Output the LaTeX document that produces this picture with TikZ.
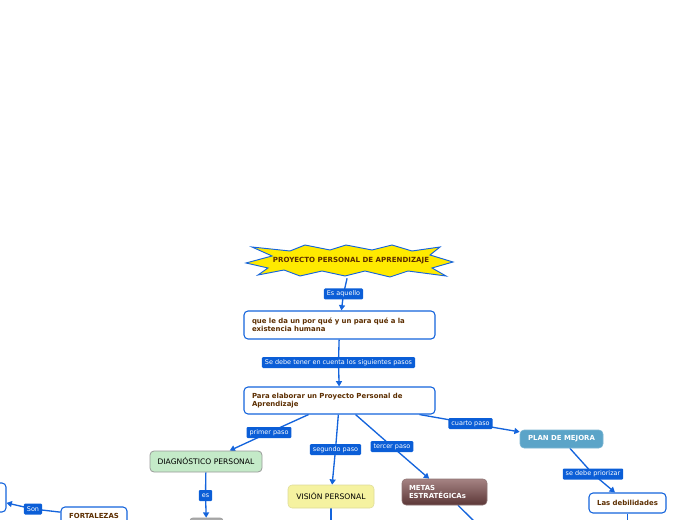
\documentclass[tikz,border=0pt]{standalone}
\usepackage{fontspec}
\setmainfont{DejaVu Sans}
\usetikzlibrary{arrows.meta}
\definecolor{cblue}{HTML}{1464DC}
\definecolor{lblue}{HTML}{0B5ED7}
\definecolor{brn}{HTML}{5C2E00}
\definecolor{staryel}{HTML}{FFEA00}
\definecolor{diagg}{HTML}{C4EAC8}
\definecolor{visy}{HTML}{F5F2A0}
\definecolor{metat}{HTML}{A58383}
\definecolor{metab}{HTML}{5C3737}
\definecolor{planb}{HTML}{5BA4C8}
\pgfdeclarelayer{bg}
\pgfsetlayers{bg,main}
\begin{document}
\begin{tikzpicture}[x=0.75pt,y=-0.75pt,
  conn/.style={draw=cblue,line width=1pt,-{Triangle[width=4.5pt,length=4pt]}},
  plainconn/.style={draw=cblue,line width=1pt},
  lbl/.style={fill=lblue,text=white,font=\fontsize{4.85}{5.5}\selectfont,rounded corners=0.8pt,inner xsep=2.2pt,inner ysep=0pt,minimum height=8.25pt},
  wbox/.style={draw=cblue,fill=white,line width=0.8pt,rounded corners=3pt,text=brn,font=\fontsize{5.2}{6}\selectfont\bfseries},
  leftbox/.style={wbox,align=left,inner xsep=6pt},
  colbox/.style={rounded corners=3pt,font=\fontsize{5.7}{6}\selectfont,inner sep=0pt}
]
\useasboundingbox (0,0) rectangle (696,520);

% central star
\draw[fill=staryel,draw=cblue,line width=0.7pt]
  (246,263) -- (272,256) -- (252,247) -- (290,251) -- (305,245) -- (330,250) -- (346,245)
  -- (372,250) -- (392,245) -- (412,251) -- (440,247) -- (430,255) -- (453,262) -- (432,268)
  -- (446,276) -- (408,271) -- (390,277) -- (365,271) -- (345,276) -- (322,271) -- (300,276)
  -- (284,270) -- (258,275) -- (268,268) -- cycle;
\node[minimum width=150pt,minimum height=25.5pt,inner sep=0pt,text=brn,
  font=\fontsize{5.3}{6}\selectfont\bfseries] (star) at (351,261) {PROYECTO PERSONAL DE APRENDIZAJE};

\node[leftbox,minimum height=21pt,text width=131.25pt] (box1) at (339.5,325)
  {que le da un por qué y un para qué a la\\existencia humana};
\node[leftbox,minimum height=20.25pt,text width=131.25pt] (box2) at (339.5,400.5)
  {Para elaborar un Proyecto Personal de\\Aprendizaje};

\node[colbox,fill=diagg,draw=gray!80,line width=0.6pt,minimum width=84pt,minimum height=15.75pt] (diag) at (206,461.5) {DIAGNÓSTICO PERSONAL};
\node[colbox,fill=visy,draw=visy!80!gray,line width=0.4pt,minimum width=64.5pt,minimum height=17.25pt] (vision) at (331,496.5) {VISIÓN PERSONAL};
\node[colbox,top color=metat,bottom color=metab,draw=metab!70,line width=0.4pt,minimum height=19.5pt,
  text width=53.25pt,inner xsep=5.25pt,align=left,text=white,font=\fontsize{5.2}{6}\selectfont\bfseries] (metas) at (444.5,492) {METAS\\ESTRATÉGICAs};
\node[colbox,fill=planb,draw=planb!80,line width=0.4pt,minimum width=62.25pt,minimum height=13.5pt,
  text=white,font=\fontsize{5.2}{6}\selectfont\bfseries] (plan) at (561.5,439) {PLAN DE MEJORA};
\node[wbox,minimum width=57.75pt,minimum height=15pt,inner sep=0pt] (debil) at (627.5,503) {Las debilidades};
\node[wbox,minimum width=49.5pt,minimum height=13.5pt,inner sep=0pt] (fort) at (94,516) {FORTALEZAS};
\node[wbox,minimum width=34.5pt,minimum height=21.75pt,inner sep=0pt] (leftn) at (-17,497.5) {};
\node[rounded corners=2pt,fill=gray!65,draw=gray!80,minimum width=24.75pt,minimum height=12pt,inner sep=0pt] (grayn) at (206.5,526) {};

% labels
\node[lbl] (l1) at (343.5,294) {Es aquello};
\node[lbl] (l2) at (338.5,362.5) {Se debe tener en cuenta los siguientes pasos};
\node[lbl] (l3) at (269,432.5) {primer paso};
\node[lbl] (l4) at (335.5,449.5) {segundo paso};
\node[lbl] (l5) at (392,446.5) {tercer paso};
\node[lbl] (l6) at (470.5,423.5) {cuarto paso};
\node[lbl] (l7) at (593,474) {se debe priorizar};
\node[lbl] (l8) at (205.5,495.5) {es};
\node[lbl] (l9) at (33,509) {Son};

\coordinate (e1) at (331,535);
\coordinate (e2) at (478,525);
\coordinate (e3) at (627.5,535);

\begin{pgfonlayer}{bg}
\draw[conn] (star) -- (l1.center) -- (box1);
\draw[conn] (box1) -- (l2.center) -- (box2);
\draw[conn] (box2) -- (l3.center) -- (diag);
\draw[conn] (box2) -- (l4.center) -- (vision);
\draw[conn] (box2) -- (l5.center) -- (metas);
\draw[conn] (box2) -- (l6.center) -- (plan);
\draw[conn] (plan) -- (l7.center) -- (debil);
\draw[conn] (diag) -- (l8.center) -- (grayn);
\draw[conn] (fort) -- (l9.center) -- (leftn);
\draw[plainconn] (vision) -- (e1);
\draw[plainconn] (metas) -- (e2);
\draw[plainconn] (debil) -- (e3);
\end{pgfonlayer}
\end{tikzpicture}
\end{document}
